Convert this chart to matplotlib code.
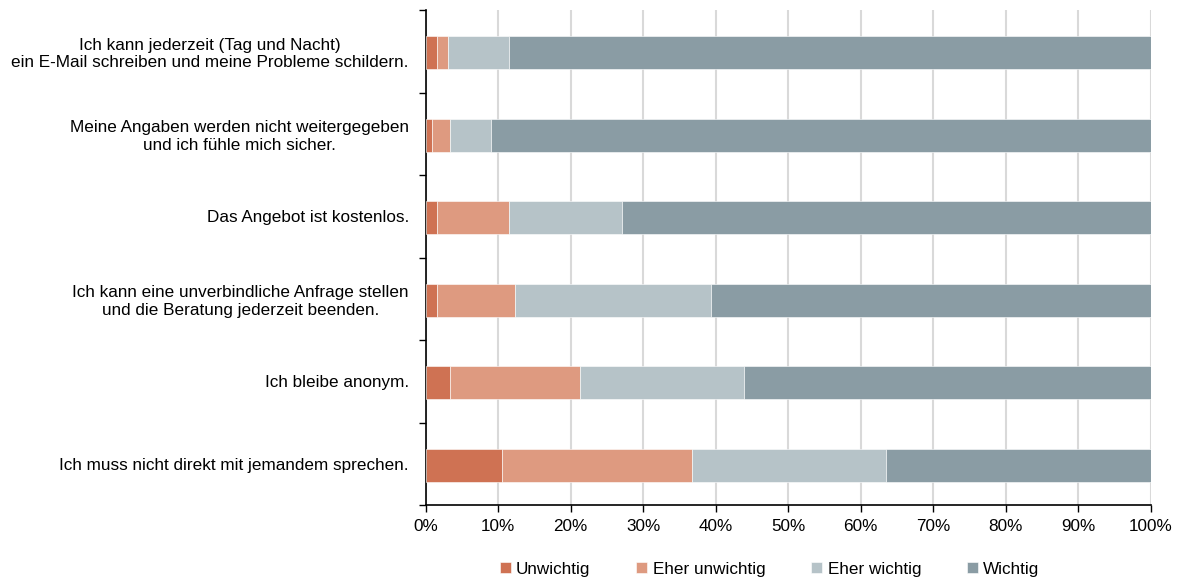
import matplotlib
matplotlib.use("Agg")
import matplotlib.pyplot as plt
import numpy as np

plt.rcParams['font.family'] = ['Liberation Sans', 'DejaVu Sans']

categories = [
    "Ich kann jederzeit (Tag und Nacht)\nein E-Mail schreiben und meine Probleme schildern.",
    "Meine Angaben werden nicht weitergegeben\nund ich fühle mich sicher.",
    "Das Angebot ist kostenlos.",
    "Ich kann eine unverbindliche Anfrage stellen\nund die Beratung jederzeit beenden.",
    "Ich bleibe anonym.",
    "Ich muss nicht direkt mit jemandem sprechen.",
]
series_names = ["Unwichtig", "Eher unwichtig", "Eher wichtig", "Wichtig"]
unwichtig = [1.6, 0.9, 1.6, 1.6, 3.4, 10.6]
eher_unwichtig = [1.5, 2.5, 9.9, 10.8, 17.9, 26.1]
eher_wichtig = [8.4, 5.6, 15.6, 27.0, 22.6, 26.8]
wichtig = [88.5, 91.0, 72.9, 60.6, 56.1, 36.5]
x_ticks = [0, 10, 20, 30, 40, 50, 60, 70, 80, 90, 100]
x_tick_labels = [f"{t}%" for t in x_ticks]

colors = ["#CF7253", "#DE9A80", "#B6C3C8", "#8A9CA4"]
fs = 12.3

fig = plt.figure(figsize=(11.84, 5.82), dpi=100)
ax = fig.add_axes([0.3594, 0.1323, 0.6124, 0.8505])

y = np.arange(len(categories))
left = np.zeros(len(categories))
for name, vals, col in zip(series_names,
                           [unwichtig, eher_unwichtig, eher_wichtig, wichtig],
                           colors):
    vals = np.array(vals)
    ax.barh(y + 0.02, vals, left=left, height=0.4, color=col, label=name,
            edgecolor="white", linewidth=0.4, zorder=3)
    left += vals

ax.set_xlim(0, 100)
ax.set_ylim(len(categories) - 0.5, -0.5)
ax.set_xticks(x_ticks)
ax.set_xticklabels(x_tick_labels, fontsize=fs)
ax.set_yticks(y)
ax.set_yticklabels(categories, fontsize=fs, multialignment="center")
ax.yaxis.set_minor_locator(matplotlib.ticker.FixedLocator(np.arange(-0.5, len(categories), 1)))
ax.tick_params(axis="y", which="major", length=0, pad=12)
ax.tick_params(axis="y", which="minor", length=5, width=1, direction="out")
ax.tick_params(axis="x", length=5, width=1, direction="out", pad=5)

ax.grid(axis="x", color="#D9D9D9", linewidth=1.5, zorder=0)
for s in ["top", "right"]:
    ax.spines[s].set_visible(False)
for s in ["left", "bottom"]:
    ax.spines[s].set_color("#000000")
    ax.spines[s].set_linewidth(1.2)

leg = fig.legend(loc="center", bbox_to_anchor=(0.65, 0.022), ncol=4, frameon=False,
                 fontsize=fs, handlelength=0.65, handleheight=0.65,
                 handletextpad=0.3, columnspacing=2.7)

fig.savefig("out.png", dpi=100)
